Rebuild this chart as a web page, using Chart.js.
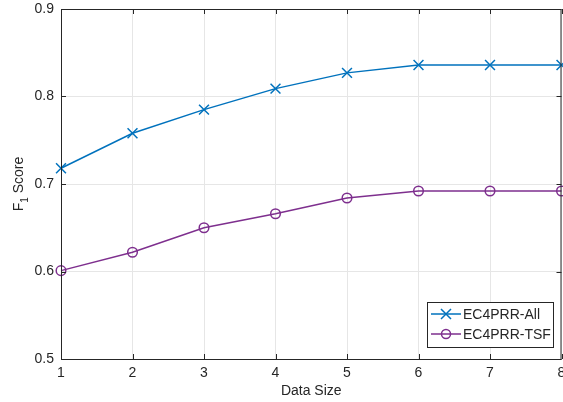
<!DOCTYPE html>
<html>
<head>
<meta charset="utf-8">
<script src="https://cdn.jsdelivr.net/npm/chart.js@4"></script>
<style>
  body { margin: 0; background: #fff; }
  canvas { display: block; }
</style>
</head>
<body>
<canvas id="chart" width="563" height="402"></canvas>
<script>
// veriler
const dataSizes = [1, 2, 3, 4, 5, 6, 7, 8];
const scoreAll = [0.718, 0.758, 0.785, 0.809, 0.827, 0.836, 0.836, 0.836];
const scoreTSF = [0.601, 0.622, 0.650, 0.666, 0.684, 0.692, 0.692, 0.692];
const seriesNames = ['EC4PRR-All', 'EC4PRR-TSF'];
const yTicks = [0.5, 0.6, 0.7, 0.8, 0.9];

const blue = '#0072BD';
const purple = '#7E2F8E';
const fontName = '"Liberation Sans", Arial, sans-serif';

// MATLAB tarzı kutu, içe dönük çentikler, y ekseni başlığı ve lejant
const matlabBox = {
  id: 'matlabBox',
  afterLayout(chart) {
    // sağ kenarı sabitle
    const a = chart.chartArea;
    const xs = chart.scales.x;
    a.right = 561.5;
    a.width = a.right - a.left;
    xs.right = a.right;
    xs.width = xs.right - xs.left;
    xs.configure();
  },
  afterDraw(chart) {
    const ctx = chart.ctx;
    const a = chart.chartArea;
    const xs = chart.scales.x, ys = chart.scales.y;
    ctx.save();
    ctx.strokeStyle = '#262626';
    ctx.lineWidth = 1;
    ctx.strokeRect(a.left + 0.5, a.top + 0.5, a.right - a.left - 1, a.bottom - a.top);
    ctx.beginPath();
    dataSizes.forEach(v => {
      const px = Math.round(xs.getPixelForValue(v)) + 0.5;
      ctx.moveTo(px, a.bottom); ctx.lineTo(px, a.bottom - 5);
      ctx.moveTo(px, a.top); ctx.lineTo(px, a.top + 5);
    });
    yTicks.forEach(v => {
      const py = Math.round(ys.getPixelForValue(v)) + 0.5;
      ctx.moveTo(a.left, py); ctx.lineTo(a.left + 5, py);
      ctx.moveTo(a.right, py); ctx.lineTo(a.right - 5, py);
    });
    ctx.stroke();

    // y ekseni başlığı: F1 Score (alt simge)
    ctx.fillStyle = '#262626';
    ctx.translate(23, (a.top + a.bottom) / 2);
    ctx.rotate(-Math.PI / 2);
    ctx.textBaseline = 'alphabetic';
    ctx.font = '14px ' + fontName;
    const w1 = ctx.measureText('F').width;
    ctx.font = '10px ' + fontName;
    const w2 = ctx.measureText('1').width;
    ctx.font = '14px ' + fontName;
    const w3 = ctx.measureText(' Score').width;
    let x0 = -(w1 + w2 + w3) / 2;
    ctx.textAlign = 'left';
    ctx.fillText('F', x0, 0);
    ctx.font = '10px ' + fontName;
    ctx.fillText('1', x0 + w1, 5);
    ctx.font = '14px ' + fontName;
    ctx.fillText(' Score', x0 + w1 + w2, 0);
    ctx.restore();

    // lejant
    ctx.save();
    const lx = 427, ly = 302, lw = 126, lh = 45;
    ctx.fillStyle = '#fff';
    ctx.fillRect(lx, ly, lw, lh);
    ctx.strokeStyle = '#262626';
    ctx.lineWidth = 1;
    ctx.strokeRect(lx + 0.5, ly + 0.5, lw, lh);
    const colors = [blue, purple];
    colors.forEach((c, i) => {
      const cy = ly + 12 + i * 20;
      ctx.strokeStyle = c;
      ctx.lineWidth = 1.5;
      ctx.beginPath();
      ctx.moveTo(lx + 4, cy); ctx.lineTo(lx + 34, cy);
      ctx.stroke();
      ctx.beginPath();
      if (i === 0) {
        ctx.moveTo(lx + 14, cy - 5); ctx.lineTo(lx + 24, cy + 5);
        ctx.moveTo(lx + 24, cy - 5); ctx.lineTo(lx + 14, cy + 5);
      } else {
        ctx.arc(lx + 19, cy, 4.5, 0, Math.PI * 2);
      }
      ctx.stroke();
      ctx.fillStyle = '#262626';
      ctx.font = '14px ' + fontName;
      ctx.textBaseline = 'middle';
      ctx.fillText(seriesNames[i], lx + 36, cy + 1);
    });
    ctx.restore();
  }
};

new Chart(document.getElementById('chart'), {
  type: 'line',
  data: {
    labels: dataSizes,
    datasets: [{
      label: seriesNames[0],
      data: dataSizes.map((x, i) => ({ x: x, y: scoreAll[i] })),
      borderColor: blue,
      backgroundColor: blue,
      borderWidth: 1.5,
      pointStyle: 'crossRot',
      pointRadius: 7,
      pointBorderWidth: 1.5,
      tension: 0
    }, {
      label: seriesNames[1],
      data: dataSizes.map((x, i) => ({ x: x, y: scoreTSF[i] })),
      borderColor: purple,
      backgroundColor: 'rgba(255,255,255,0)',
      borderWidth: 1.5,
      pointStyle: 'circle',
      pointRadius: 4.8,
      pointBorderWidth: 1.5,
      tension: 0
    }]
  },
  options: {
    responsive: false,
    animation: false,
    clip: false,
    layout: { padding: { top: 9, right: 1, left: 0, bottom: 0 } },
    plugins: {
      legend: { display: false },
      tooltip: { enabled: false }
    },
    scales: {
      x: {
        type: 'linear',
        min: 1, max: 8,
        afterFit: s => { s.height = 43; s.paddingLeft = 0; s.paddingRight = 0; },
        grid: { color: '#e6e6e6', drawTicks: false },
        border: { display: false },
        ticks: {
          stepSize: 1, padding: 6, color: '#262626',
          font: { family: fontName, size: 14 }
        },
        title: {
          display: true, text: 'Data Size', color: '#262626',
          font: { family: fontName, size: 14 },
          padding: { top: 0, bottom: 2 }
        }
      },
      y: {
        min: 0.5, max: 0.9,
        afterFit: s => { s.width = 61; s.paddingTop = 0; s.paddingBottom = 0; },
        grid: { color: '#e6e6e6', drawTicks: false },
        border: { display: false },
        ticks: {
          stepSize: 0.1, padding: 7, color: '#262626',
          font: { family: fontName, size: 14 },
          callback: v => v.toFixed(1)
        }
      }
    }
  },
  plugins: [matlabBox]
});
</script>
</body>
</html>
